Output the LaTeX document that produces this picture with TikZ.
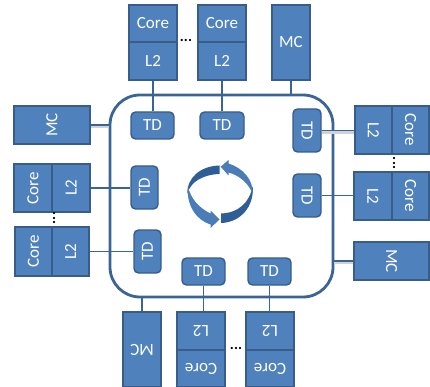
\documentclass[tikz,border=0pt]{standalone}
\usepackage{fontspec}
\usepackage{graphicx}
\setmainfont{Carlito}
\definecolor{boxfill}{HTML}{4F81BD}
\definecolor{boxline}{HTML}{385D8A}
\definecolor{ringline}{HTML}{3A6496}
\definecolor{arrowlight}{HTML}{4A7CB8}
\definecolor{arrowdark}{HTML}{2F5E96}
\definecolor{softshadow}{HTML}{D0D3D6}
\tikzset{
  basebox/.style={draw=boxline,fill=boxfill,line width=1.4pt,text=white,inner sep=0pt,
    font=\fontsize{17}{17}\selectfont,anchor=center},
  unitbox/.style={basebox},
  tdbox/.style={basebox,rounded corners=4.5pt},
  conn/.style={draw=ringline,line width=1.8pt},
  shadeline/.style={draw=softshadow,line width=2.4pt},
  ringbox/.style={draw=ringline,line width=2.8pt,rounded corners=30pt,inner sep=0pt},
  dotsnode/.style={inner sep=0pt,font=\fontsize{15}{15}\selectfont\bfseries,text=black}
}
% name, style, x0, y0, x1, y1, rotation, text
\newcommand{\bx}[8]{%
  \pgfmathsetmacro{\bxw}{#5-#3}\pgfmathsetmacro{\bxh}{#6-#4}%
  \pgfmathsetmacro{\bxcx}{(#3+#5)/2}\pgfmathsetmacro{\bxcy}{(#4+#6)/2}%
  \node[#2,minimum width=\bxw pt,minimum height=\bxh pt] (#1) at (\bxcx,\bxcy) {\rotatebox{#7}{#8}};%
}
\begin{document}
\begin{tikzpicture}[x=1pt,y=-1pt]
\useasboundingbox (0,0) rectangle (430,387);
\bx{ring}{ringbox}{110}{95}{333}{297}{0}{}
% top
\bx{tca}{unitbox}{129}{5}{177}{42}{0}{Core}
\bx{tla}{unitbox}{129}{42}{177}{80}{0}{L2}
\bx{tcb}{unitbox}{198}{5}{246}{42}{0}{Core}
\bx{tlb}{unitbox}{198}{42}{246}{80}{0}{L2}
\bx{tmc}{unitbox}{272}{5}{310}{80}{0}{MC}
\bx{tta}{tdbox}{131}{112}{174}{139}{0}{TD}
\bx{ttb}{tdbox}{200}{112}{244}{139}{0}{TD}
\node[dotsnode] (tdots) at (186,40) {...};
% left
\bx{lmc}{unitbox}{14}{106}{90}{144}{90}{MC}
\bx{lca}{unitbox}{14}{164}{52}{212}{90}{Core}
\bx{lla}{unitbox}{52}{164}{90}{212}{90}{L2}
\bx{lcb}{unitbox}{15}{227}{52}{276}{90}{Core}
\bx{llb}{unitbox}{52}{227}{89}{276}{90}{L2}
\bx{lta}{tdbox}{131}{166}{158}{209}{90}{TD}
\bx{ltb}{tdbox}{134}{230}{161}{273}{90}{TD}
\node[dotsnode] (ldots) at (54,218) {\rotatebox{90}{...}};
% right
\bx{rla}{unitbox}{355}{106}{392}{154}{270}{L2}
\bx{rca}{unitbox}{392}{106}{429}{154}{270}{Core}
\bx{rlb}{unitbox}{354}{172}{392}{220}{270}{L2}
\bx{rcb}{unitbox}{392}{172}{429}{220}{270}{Core}
\bx{rmc}{unitbox}{354}{242}{429}{280}{270}{MC}
\bx{rta}{tdbox}{293}{109}{321}{152}{270}{TD}
\bx{rtb}{tdbox}{293}{174}{321}{217}{270}{TD}
\node[dotsnode] (rdots) at (394,163) {\rotatebox{90}{...}};
% bottom
\bx{bmc}{unitbox}{123}{312}{161}{387}{180}{MC}
\bx{bla}{unitbox}{177}{312}{225}{350}{180}{L2}
\bx{bca}{unitbox}{177}{350}{225}{387}{180}{Core}
\bx{blb}{unitbox}{246}{312}{294}{350}{180}{L2}
\bx{bcb}{unitbox}{246}{350}{294}{387}{180}{Core}
\bx{bta}{tdbox}{182}{258}{225}{285}{0}{TD}
\bx{btb}{tdbox}{248}{258}{291}{285}{0}{TD}
\node[dotsnode] (bdots) at (236,348) {...};
% connector shadows
\draw[shadeline] ([yshift=-2pt]lmc.east) -- ([yshift=-2pt]lmc.east -| ring.west);
\draw[shadeline] ([yshift=-2pt]rta.east) -- ([yshift=-2pt]rta.east -| rla.west);
\draw[shadeline] ([yshift=-2pt]rmc.west) -- ([yshift=-2pt]rmc.west -| ring.east);
% connectors
\draw[conn] (tla.south) -- (tla.south |- tta.north);
\draw[conn] (tlb.south) -- (tlb.south |- ttb.north);
\draw[conn] (tmc.south) -- (tmc.south |- ring.north);
\draw[conn] (lmc.east) -- (lmc.east -| ring.west);
\draw[conn] (lla.east) -- (lla.east -| lta.west);
\draw[conn] (llb.east) -- (llb.east -| ltb.west);
\draw[conn] (rta.east) -- (rta.east -| rla.west);
\draw[conn] (rtb.east) -- (rtb.east -| rlb.west);
\draw[conn] (rmc.west) -- (rmc.west -| ring.east);
\draw[conn] (bta.south) -- (bta.south |- bla.north);
\draw[conn] (btb.south) -- (btb.south |- blb.north);
\draw[conn] (bmc.north) -- (bmc.north |- ring.south);
% cycle symbol: upper-left band
\fill[arrowdark] (219.5,165.5) .. controls (201,166) and (187,177) .. (187.3,194)
  .. controls (190,182) and (203,174.5) .. (219.5,174) -- cycle;
% lower-left band with head
\fill[arrowlight] (188,186) .. controls (190,198) and (199,208) .. (210.5,213.5)
  -- (210.5,210.5) -- (219.5,219.5) -- (210.5,228) -- (210.5,224.5)
  .. controls (196,220) and (186,205) .. (188,186) -- cycle;
% lower-right band
\fill[arrowdark] (221,213.5) .. controls (238,213) and (249.5,203) .. (252.7,186)
  .. controls (254.5,207) and (240,222.5) .. (221,223) -- cycle;
% upper-right band with head
\fill[arrowlight] (252.7,194) .. controls (253.5,180) and (243,168) .. (228.5,163.5)
  -- (228.5,160) -- (220.7,166.7) -- (228.5,175.5) -- (228.5,172.5)
  .. controls (238,175) and (248,182) .. (252.7,194) -- cycle;
\end{tikzpicture}
\end{document}
